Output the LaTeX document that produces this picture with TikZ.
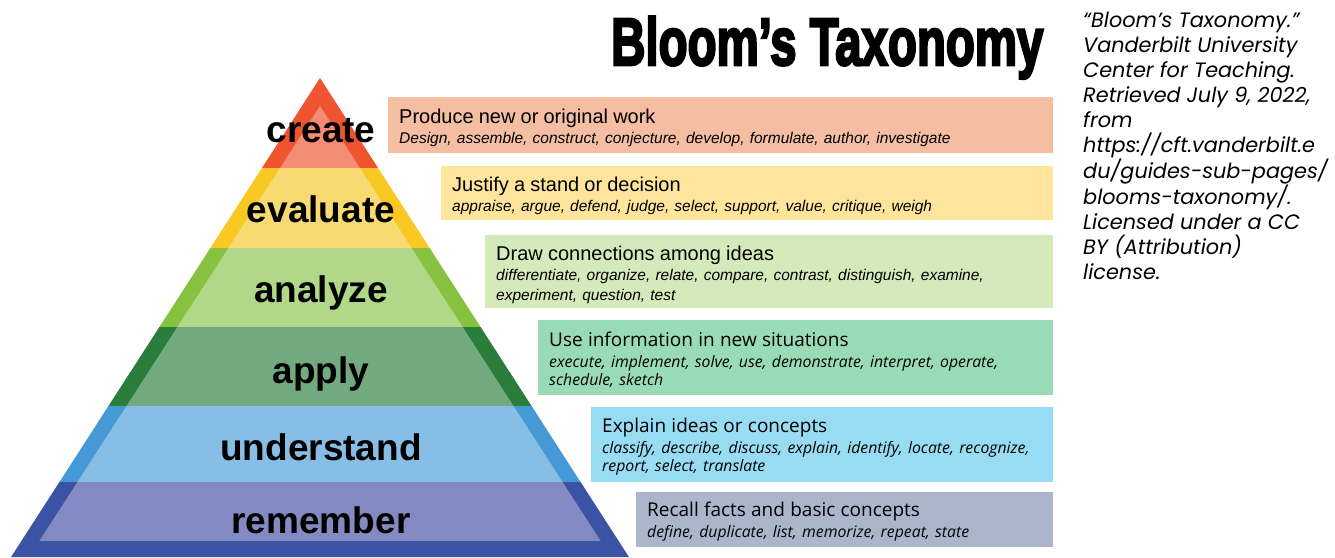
\documentclass[tikz,border=0pt]{standalone}
\usepackage{graphicx}
\usepackage{fontspec}
\setmainfont{Liberation Sans}
\newfontfamily\opensans{Open Sans}
\newfontfamily\citefont{Poppins}
\newfontfamily\titlefont{Liberation Sans}[BoldFeatures={FakeBold=4}]
\usepackage{tikz}
\usetikzlibrary{positioning}
\definecolor{createdark}{HTML}{EF5430}
\definecolor{createlight}{HTML}{F48B75}
\definecolor{createbox}{HTML}{F5BDA1}
\definecolor{evaldark}{HTML}{F9C823}
\definecolor{evallight}{HTML}{F8DA72}
\definecolor{evalbox}{HTML}{FEE59B}
\definecolor{analyzedark}{HTML}{86C240}
\definecolor{analyzelight}{HTML}{B1D788}
\definecolor{analyzebox}{HTML}{D4EABB}
\definecolor{applydark}{HTML}{2A7D3B}
\definecolor{applylight}{HTML}{72AA7F}
\definecolor{applybox}{HTML}{99DBB6}
\definecolor{understanddark}{HTML}{4599D5}
\definecolor{understandlight}{HTML}{86BEE5}
\definecolor{understandbox}{HTML}{98DCF3}
\definecolor{rememberdark}{HTML}{3B53A5}
\definecolor{rememberlight}{HTML}{838AC1}
\definecolor{rememberbox}{HTML}{ABB5CB}
\newcommand{\tophead}[1]{{\fontsize{20}{20}\selectfont\upshape\rule{0pt}{20pt}#1}}
\newcommand{\lowhead}[1]{{\fontsize{19}{20}\selectfont\upshape\rule{0pt}{19pt}#1}}
\tikzstyle{level} = [anchor=base, inner sep=0pt, font=\fontsize{37}{40}\selectfont\bfseries]
\tikzstyle{desc} = [anchor=north west, inner xsep=11pt, inner ysep=0pt, align=left, font=\fontsize{15.5}{20}\selectfont\itshape]
\tikzstyle{lowdesc} = [desc, font=\opensans\fontsize{15.8}{18}\selectfont\itshape]
\tikzstyle{cite} = [anchor=north west, inner sep=0pt, align=left, font=\citefont\itshape\fontsize{20.8}{25}\selectfont]

\begin{document}
\begin{tikzpicture}[x=1pt,y=-1pt]
        \useasboundingbox (0,0) rectangle (1335,557);
        % pyramid bands: top/bottom, inner top/bottom, colours
        \foreach \t/\b/\it/\ib/\oc/\ic in {78/168/106/168/createdark/createlight,
                168/248/168/248/evaldark/evallight,
                248/327/248/327/analyzedark/analyzelight,
                327/406/327/406/applydark/applylight,
                406/482/406/482/understanddark/understandlight,
                482/557/482/541/rememberdark/rememberlight}{
            \fill[\oc] ({320-0.645*(\t-78)},\t) -- ({320+0.645*(\t-78)},\t) -- ({320+0.645*(\b-78)},\b) -- ({320-0.645*(\b-78)},\b) -- cycle;
            \fill[\ic] ({338-0.645*(\it-78)},\it) -- ({302+0.645*(\it-78)},\it) -- ({302+0.645*(\ib-78)},\ib) -- ({338-0.645*(\ib-78)},\ib) -- cycle;
        }
        \node (create) [level] at (321,142) {create};
        \node (evaluate) [level] at (321,222) {evaluate};
        \node (analyze) [level] at (321,302) {analyze};
        \node (apply) [level] at (321,383) {apply};
        \node (understand) [level] at (321,460) {understand};
        \node (remember) [level] at (321,533) {remember};

        \node (title) [anchor=base west, inner sep=0pt] at (611,65) {\resizebox{432pt}{48.5pt}{\titlefont\bfseries Bloom’s Taxonomy}};

        \node (dcreate) [desc, fill=createbox, text width=643pt, minimum height=56pt] at (388,97) {\tophead{Produce new or original work}\\ Design, assemble, construct, conjecture, develop, formulate, author, investigate};
        \node (devaluate) [desc, fill=evalbox, text width=590pt, minimum height=54pt] at (441,166) {\tophead{Justify a stand or decision}\\ appraise, argue, defend, judge, select, support, value, critique, weigh};
        \node (danalyze) [desc, fill=analyzebox, text width=546pt, minimum height=73pt] at (485,235) {\tophead{Draw connections among ideas}\\ differentiate, organize, relate, compare, contrast, distinguish, examine,\\ experiment, question, test};
        \node (dapply) [lowdesc, fill=applybox, text width=493pt, minimum height=75pt] at (538,320) {\lowhead{Use information in new situations}\\[3pt] execute, implement, solve, use, demonstrate, interpret, operate,\\ schedule, sketch};
        \node (dunderstand) [lowdesc, fill=understandbox, text width=440pt, minimum height=75pt] at (591,407) {\lowhead{Explain ideas or concepts}\\[3pt] classify, describe, discuss, explain, identify, locate, recognize,\\ report, select, translate};
        \node (dremember) [lowdesc, fill=rememberbox, text width=395pt, minimum height=55pt] at (636,492) {\lowhead{Recall facts and basic concepts}\\[3pt] define, duplicate, list, memorize, repeat, state};

        \node (source) [cite] at (1083,12) {“Bloom’s Taxonomy.”\\ Vanderbilt University\\ Center for Teaching.\\ Retrieved July 9, 2022,\\ from\\ https://cft.vanderbilt.e\\ du/guides-sub-pages/\\ blooms-taxonomy/.\\ Licensed under a CC\\ BY (Attribution)\\ license.};
\end{tikzpicture}
\end{document}
